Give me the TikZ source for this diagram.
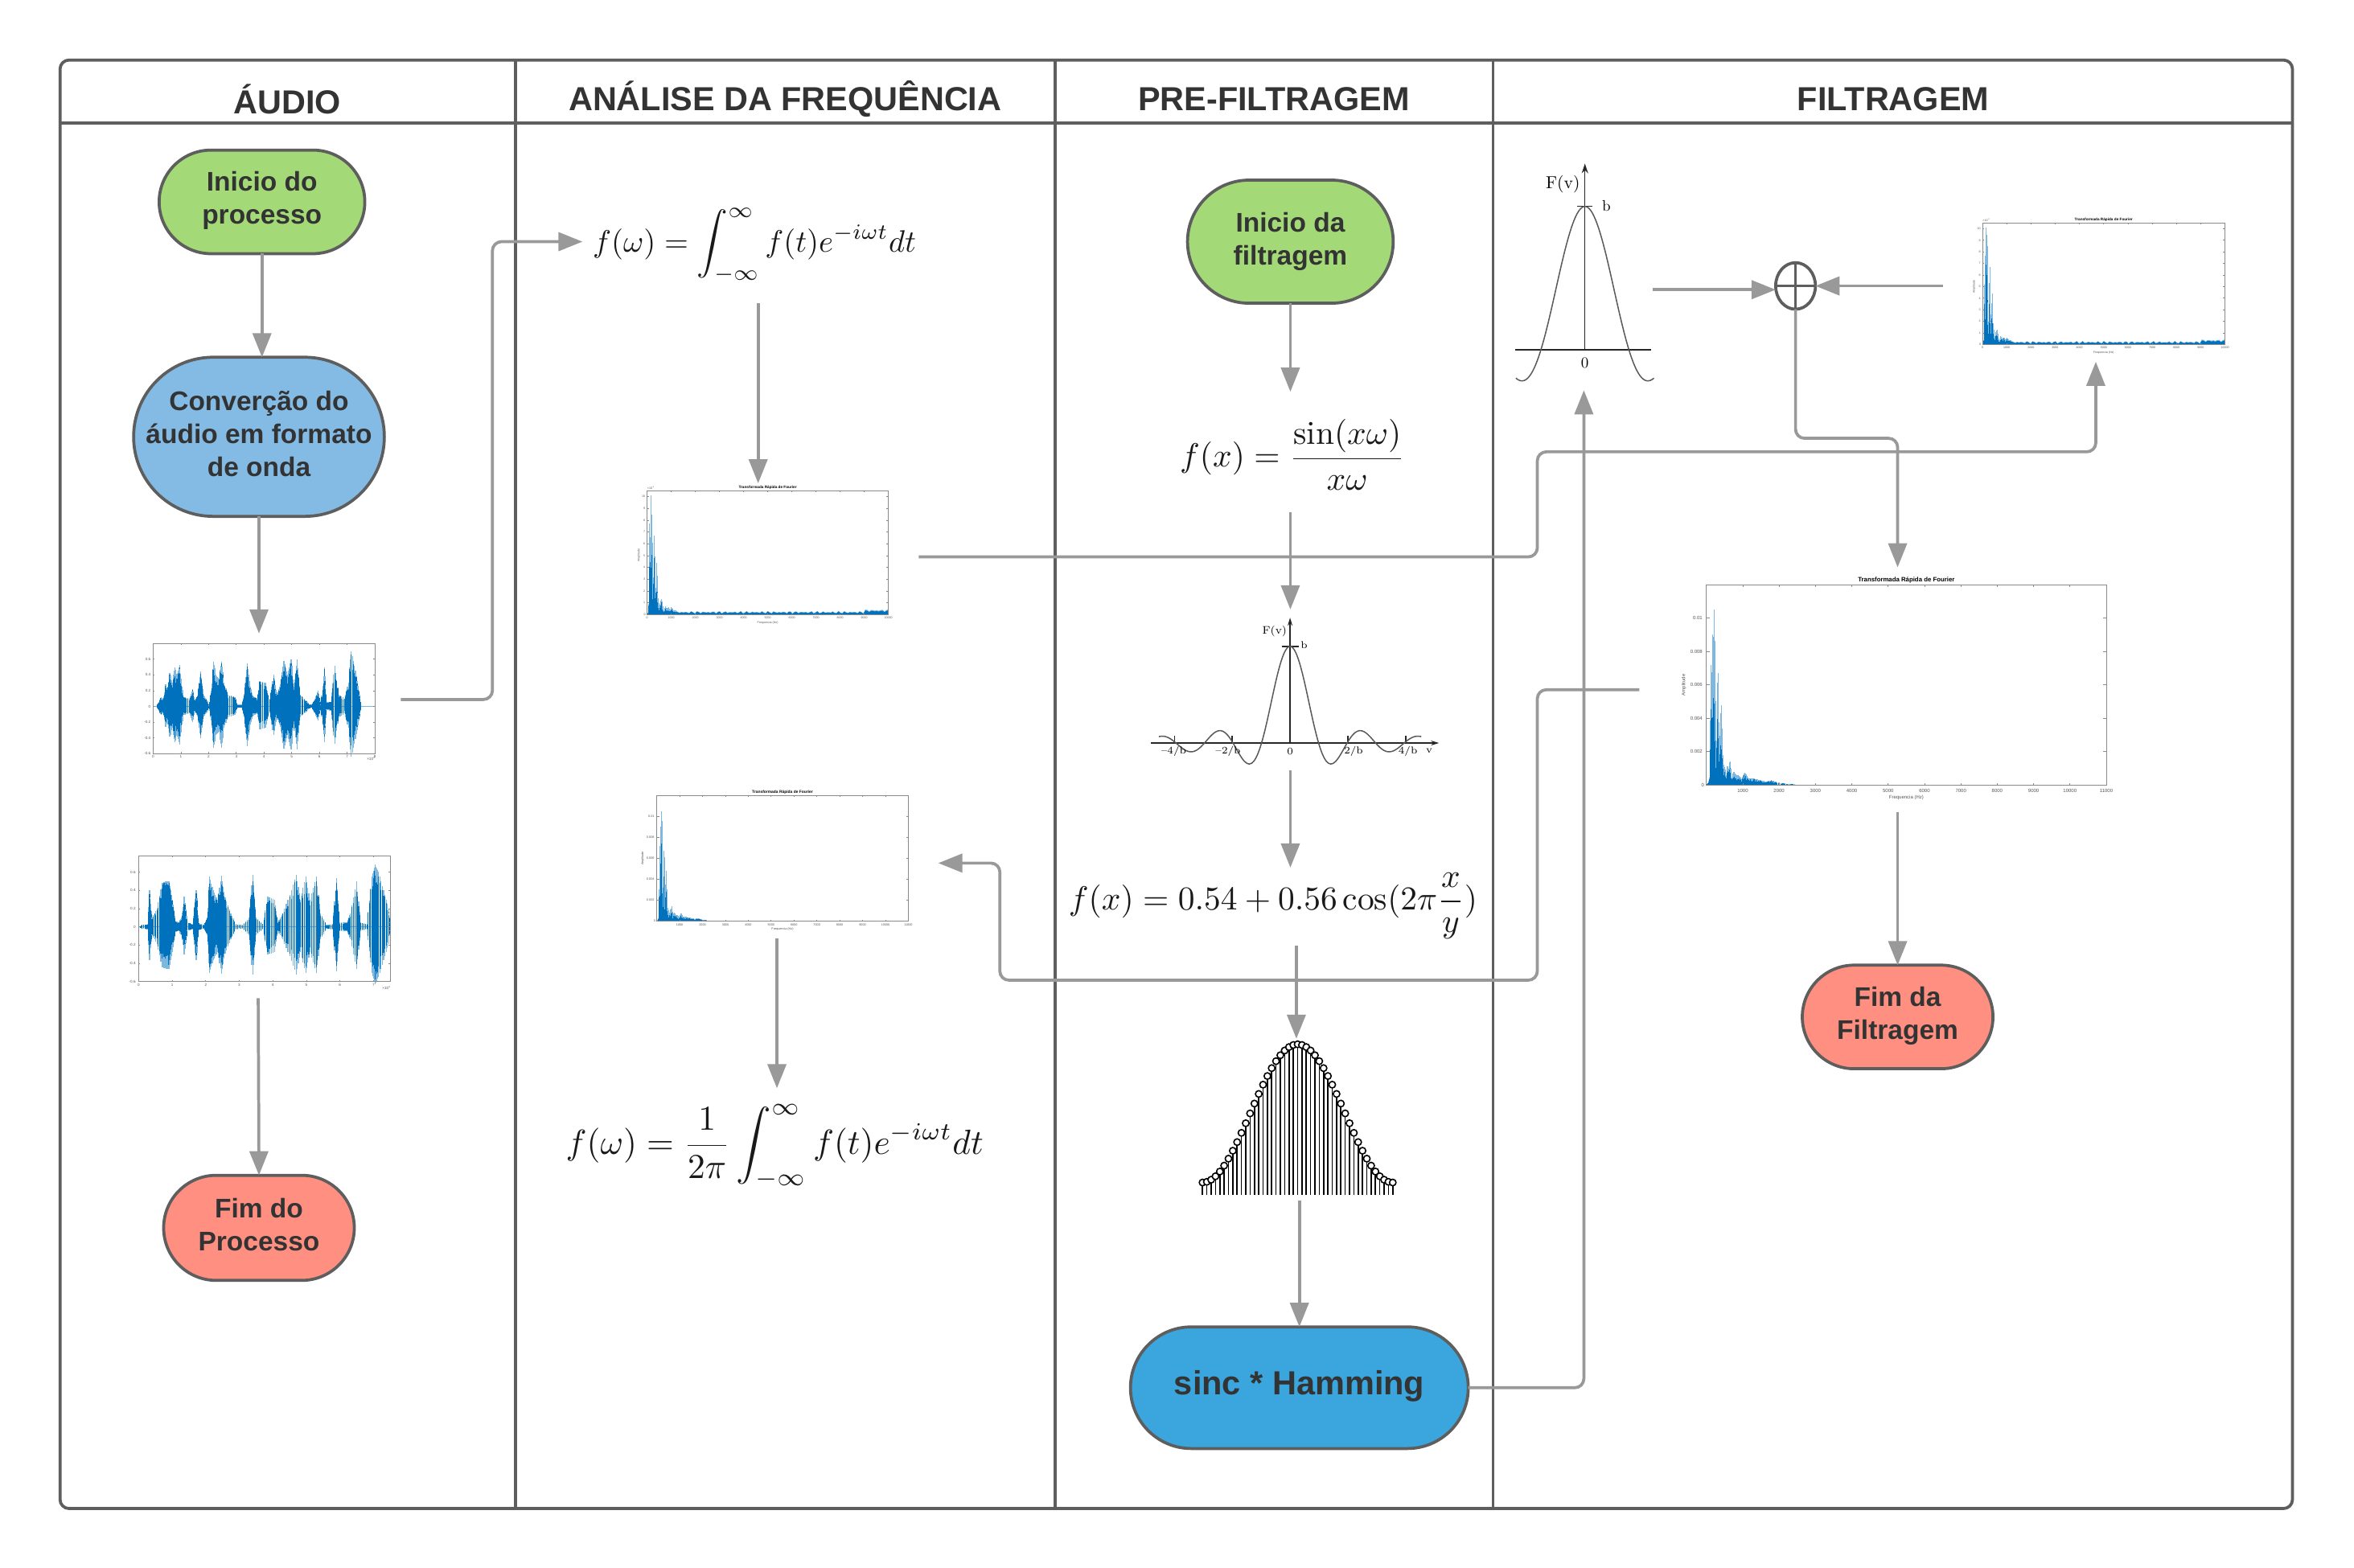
\documentclass[tikz,border=0pt]{standalone}
\usepackage{fontspec}
\usepackage{graphicx}
\usetikzlibrary{arrows.meta,shapes.misc,shapes.geometric,fit}
\newfontfamily\lsans{Liberation Sans}
\newlength\uu \setlength\uu{0.93335pt}
\definecolor{framec}{HTML}{5E5E5E}
\definecolor{connc}{HTML}{999999}
\definecolor{txtc}{HTML}{333333}
\definecolor{pgreen}{HTML}{A3D977}
\definecolor{pblue}{HTML}{83BBE5}
\definecolor{pred}{HTML}{FF8F80}
\definecolor{psinc}{HTML}{3AA6DD}
\definecolor{mdark}{HTML}{0072BD}
\definecolor{mlight}{HTML}{7FB8DE}
\definecolor{axc}{HTML}{8A8A8A}
\definecolor{labc}{HTML}{555555}
\tikzset{
  frameline/.style={draw=framec,line width=2\uu},
  conn/.style={draw=connc,line width=2\uu,rounded corners=6\uu},
  connar/.style={conn,-{Triangle[length=15pt,width=11.5pt]}},
  pill/.style={rectangle,draw=framec,line width=2\uu,text=txtc,align=center,inner sep=0pt,outer sep=0pt,
    font=\lsans\bfseries\fontsize{16.75}{20.5}\selectfont},
  headt/.style={text=txtc,inner sep=0pt,font=\lsans\bfseries\fontsize{20.7}{24}\selectfont},
  axl/.style={draw=axc,line width=0.35pt},
  graphl/.style={draw=black!85,line width=0.75pt},
  graphc/.style={draw=black!65,line width=0.75pt},
  slotn/.style={inner sep=0pt,outer sep=0pt,draw=none},
  eqn/.style={inner sep=0pt,text=black!90}
}
\newcommand\slot[5]{\node[slotn,fit={(#2,#3)(#4,#5)}] (#1) {};}
\newcommand\plotfont[1]{\lsans\fontsize{#1}{#1}\selectfont}
\newcommand\plotfontb[1]{\lsans\bfseries\fontsize{#1}{#1}\selectfont}
\newcommand\timesexp[1]{×10\raisebox{.45em}{\scalebox{.65}{#1}}}
% spectrum outlines (kHz / amplitude x 10^-3)
\def\specfilt{0/0,.05/.1,.1/.5,.13/7.2,.15/3,.17/9,.19/4,.21/10.5,.24/6.8,.26/2,.29/2,.32/6.7,.35/2,.38/2.7,.41/4.8,.44/2,.47/1.2,.52/.9,.55/.3,.58/1.1,.62/.9,.65/1.4,.7/.3,.75/.8,.82/.6,.9/.55,.97/.3,1.05/.75,1.15/.4,1.3/.38,1.5/.28,1.65/.2,1.78/.28,1.95/.15,2.2/.07,2.5/.02}
\def\specfull{0/.1,.05/.2,.08/1,.1/7.7,.12/3,.16/10.1,.18/5,.2/8.5,.23/2,.26/1,.3/6.7,.33/2,.36/1,.4/4.4,.43/1.5,.47/1.2,.5/.4,.55/1,.6/1.3,.65/.6,.7/.2,.75/.7,.8/.5,.9/.6,.95/.3,1/.6,1.1/.35,1.2/.35}
\def\specnoise{(1.2,0)--(1.2,.3)--plot[domain=1.35:10,samples=110] (\x,{.2+.07*sin(1597*\x)+.05*sin(1237*\x)+.15*(\x>9)})--(10,0)--cycle}
% waveform outlines (x 10^4 / amplitude)
\def\wavea{.13/0,.2/.06,.3/.12,.38/.08,.45/.28,.52/.2,.6/.42,.7/.3,.78/.5,.85/.38,.95/.53,1.02/.3,1.1/.12,1.3/.1,1.42/.22,1.5/.08,1.62/.16,1.72/.44,1.82/.14,1.95/.08,2.02/.01,2.1/.2,2.18/.57,2.27/.4,2.38/.35,2.46/.57,2.56/.3,2.7/.15,2.95/.12,3.05/.02,3.2/.02,3.3/.2,3.39/.55,3.5/.25,3.6/.14,3.75/.1,3.85/.32,4.05/.3,4.2/.1,4.35/.4,4.45/.15,4.6/.28,4.72/.58,4.85/.4,4.98/.6,5.08/.25,5.2/.6,5.32/.15,5.5/.08,5.62/.03,5.72/.02,5.85/.1,5.95/.2,6.05/.02,6.18/.5,6.25/.05,6.4/.06,6.55/.52,6.7/.15,6.9/.1,7.05/.3,7.15/.7,7.3/.45,7.42/.2,7.52/.01}
\def\waveb{.1/.02,.28/.03,.33/.4,.4/.1,.55/.2,.7/.48,.82/.5,.92/.5,1/.3,1.1/.06,1.2/.05,1.28/.1,1.36/.33,1.45/.05,1.6/.03,1.72/.4,1.8/.04,1.95/.02,2.05/.1,2.12/.55,2.22/.4,2.35/.3,2.47/.56,2.58/.32,2.75/.15,2.9/.03,3.1/.02,3.28/.1,3.4/.57,3.5/.1,3.7/.03,3.85/.33,4.05/.3,4.15/.05,4.3/.15,4.5/.35,4.7/.57,4.82/.3,4.98/.55,5.1/.3,5.3/.55,5.42/.15,5.6/.02,5.78/.03,5.9/.53,6/.05,6.2/.05,6.3/.15,6.5/.5,6.62/.05,6.8/.03,6.95/.55,7.05/.68,7.15/.6,7.3/.4,7.45/.2,7.5/0}
% spikes one-sided (list, line width)
\newcommand\specspikes[2]{%
\foreach \xa/\ya [remember=\xa as \xp (initially 0),remember=\ya as \yp (initially 0)] in #1 {
 \foreach \k in {0,...,7}{
  \pgfmathsetmacro\sx{\xp+(\xa-\xp)*\k/8}
  \pgfmathsetmacro\sy{\yp+(\ya-\yp)*\k/8}
  \pgfmathsetmacro\sr{.5+.4*rnd}
  \draw[mlight,line width=#2] (\sx,0)--(\sx,\sy);
  \draw[mdark,line width=#2] (\sx,0)--(\sx,\sy*\sr);
 }}}
% spikes two-sided (list)
\newcommand\wavespikes[1]{%
\foreach \xa/\ya [remember=\xa as \xp (initially 0),remember=\ya as \yp (initially 0)] in #1 {
 \foreach \k in {0,...,3}{
  \pgfmathsetmacro\sx{\xp+(\xa-\xp)*\k/4}
  \pgfmathsetmacro\sy{(\yp+(\ya-\yp)*\k/4)}
  \pgfmathsetmacro\sr{.72+.26*rnd}
  \pgfmathsetmacro\sq{.66+.28*rnd}
  \draw[mlight,line width=.62pt] (\sx,\sy)--(\sx,-.92*\sy);
  \draw[mdark,line width=.62pt] (\sx,\sr*\sy)--(\sx,-.9*\sq*\sy);
 }}}
% filtered FFT plot: name, x0, ytop, x1, ybot, fontscale
\newcommand\fftfilt[6]{%
\pgfmathsetmacro\ux{(#4-#2)*0.93335/11}\pgfmathsetmacro\uy{(#5-#3)*0.93335/12}%
\pgfmathsetmacro\ft{3.0*#6}\pgfmathsetmacro\ftt{3.9*#6}\pgfmathsetmacro\sw{.6*#6}%
\begin{scope}[shift={(#2,#5)},x=\ux pt,y=\uy pt]
 \specspikes{\specfilt}{\sw pt}
 \draw[mlight,line width=.4pt] (2.5,0)--(11,0);
 \draw[axl] (0,0) rectangle (11,12);
 \foreach \t in {1,...,10}{\draw[axl] (\t,0)--++(0,.12) (\t,12)--++(0,-.12);}
 \foreach \t in {1,...,11}{\node[inner sep=0pt,text=labc,font=\plotfont{\ft}] (#1x\t) at (\t,-.33) {\t000};}
 \foreach \v/\l in {2/0.002,4/0.004,6/0.006,8/0.008,10/0.01}{\draw[axl] (0,\v)--++(.1,0) (11,\v)--++(-.1,0);
   \node[inner sep=0pt,anchor=east,text=labc,font=\plotfont{\ft}] (#1y\v) at (-.1,\v) {\l};}
 \node[inner sep=0pt,anchor=east,text=labc,font=\plotfont{\ft}] (#1y0) at (-.05,0) {0};
 \node[inner sep=0pt,text=black,font=\plotfontb{\ftt}] (#1t) at (5.5,12.3) {Transformada Rápida de Fourier};
 \node[inner sep=0pt,text=labc,font=\plotfont{\ft}] (#1f) at (5.5,-.77) {Frequencia (Hz)};
 \node[inner sep=0pt,text=labc,rotate=90,font=\plotfont{\ft}] (#1a) at (-.62,6) {Amplitude};
\end{scope}}
% full FFT plot
\newcommand\fftfull[6]{%
\pgfmathsetmacro\ux{(#4-#2)*0.93335/10}\pgfmathsetmacro\uy{(#5-#3)*0.93335/10.5}%
\pgfmathsetmacro\ft{3.0*#6}\pgfmathsetmacro\ftt{3.9*#6}\pgfmathsetmacro\sw{.6*#6}%
\begin{scope}[shift={(#2,#5)},x=\ux pt,y=\uy pt]
 \specspikes{\specfull}{\sw pt}
 \fill[mlight] \specnoise;
 \fill[mdark,yscale=.8] \specnoise;
 \draw[axl] (0,0) rectangle (10,10.5);
 \foreach \t in {1,...,9}{\draw[axl] (\t,0)--++(0,.1) (\t,10.5)--++(0,-.1);}
 \node[inner sep=0pt,text=labc,font=\plotfont{\ft}] (#1x0) at (0,-.3) {0};
 \foreach \t in {1,...,10}{\node[inner sep=0pt,text=labc,font=\plotfont{\ft}] (#1x\t) at (\t,-.3) {\t000};}
 \node[inner sep=0pt,anchor=east,text=labc,font=\plotfont{\ft}] (#1y0) at (-.05,0) {0};
 \foreach \v in {1,...,10}{\draw[axl] (0,\v)--++(.07,0) (10,\v)--++(-.07,0);
   \node[inner sep=0pt,anchor=east,text=labc,font=\plotfont{\ft}] (#1y\v) at (-.07,\v) {\v};}
 \node[inner sep=0pt,anchor=west,text=labc,font=\plotfont{\ft}] (#1e) at (0,10.75) {\timesexp{-3}};
 \node[inner sep=0pt,text=black,font=\plotfontb{\ftt}] (#1t) at (5,10.78) {Transformada Rápida de Fourier};
 \node[inner sep=0pt,text=labc,font=\plotfont{\ft}] (#1f) at (5,-.68) {Frequencia (Hz)};
 \node[inner sep=0pt,text=labc,rotate=90,font=\plotfont{\ft}] (#1a) at (-.34,5) {Amplitude};
\end{scope}}
% waveform plot: name, x0, ytop, x1, ybot, xmax, ymaxamp, ticks x, outline
\newcommand\waveplot[9]{%
\pgfmathsetmacro\ux{(#4-#2)*0.93335/#6}\pgfmathsetmacro\uy{(#5-#3)*0.93335/(#7+0.6)}%
\begin{scope}[shift={(#2,#5)},x=\ux pt,y=\uy pt]
\begin{scope}[yshift=0.6*\uy pt]
 \draw[mlight,line width=.5pt] (0,.4)--(0,-.3);
 \draw[mlight,line width=.4pt] (0,0)--(#6,0);
 \wavespikes{#9}
 \foreach \v/\l in {-.6/-0.6,-.4/-0.4,-.2/-0.2,0/0,.2/0.2,.4/0.4,.6/0.6}{
   \draw[axl] (0,\v)--++(.05,0) (#6,\v)--++(-.05,0);
   \node[inner sep=0pt,anchor=east,text=labc,font=\plotfont{2.3}] (#1y\l) at (-.08,\v) {\l};}
\end{scope}
 \draw[axl] (0,0) rectangle (#6,#7+.6);
 \foreach \t in {#8}{\draw[axl] (\t,0)--++(0,.02) (\t,#7+.6)--++(0,-.02);
   \node[inner sep=0pt,text=labc,font=\plotfont{2.3}] (#1x\t) at (\t,-.035) {\t};}
 \node[inner sep=0pt,text=labc,anchor=east,font=\plotfont{2.3}] (#1e) at (#6,-.07) {\timesexp{4}};
\end{scope}}
\newcommand\sincfn[1]{sin(180*#1)/(3.14159*#1)}
\begin{document}
\begin{tikzpicture}[x=0.93335pt,y=-0.93335pt]
\pgfmathsetseed{4711}
\useasboundingbox (0,0) rectangle (1568,1044.6);
\fill[white] (0,0) rectangle (1568,1044.6);
% frame
\draw[frameline,rounded corners=6\uu] (40,40) rectangle (1527,1005);
\draw[frameline] (40,82)--(1527,82);
\draw[frameline] (343.5,40)--(343.5,1005);
\draw[frameline] (703,40)--(703,1005);
\draw[frameline] (994.5,40)--(994.5,1005);
\node[headt] (h1) at (191.5,66) {ÁUDIO};
\node[headt] (h2) at (523,66) {ANÁLISE DA FREQUÊNCIA};
\node[headt] (h3) at (848.5,66) {PRE-FILTRAGEM};
\node[headt] (h4) at (1261,66) {FILTRAGEM};
% slots for drawings and formulas
\slot{wave1}{77}{422}{267}{510}
\slot{wave2}{66}{566}{278}{665}
\slot{eq1}{388}{120}{622}{202}
\slot{fft1}{398}{322}{612}{420}
\slot{fft2}{410}{525}{625}{625}
\slot{eq2}{375}{725}{660}{800}
\slot{eq3}{770}{261}{949}{341}
\slot{sincg}{760}{406}{959}{513}
\slot{eq4}{712}{578}{990}{630}
\slot{ham}{794}{692}{933}{800}
\slot{filt}{1009}{126}{1101}{260}
\slot{fft3}{1294}{140}{1498}{241}
\slot{fft4}{1092}{378}{1436}{541}
% pills
\node[pill,fill=pgreen,rounded corners=34.5\uu,minimum width=137\uu,minimum height=69\uu,text depth=5.2pt] (ini1) at (174.5,134.5) {Inicio do\\processo};
\node[pill,fill=pblue,rounded corners=53\uu,minimum width=167\uu,minimum height=106\uu,text depth=3.7pt] (conv) at (172.5,291) {Converção do\\áudio em formato\\de onda};
\node[pill,fill=pred,rounded corners=35\uu,minimum width=127\uu,minimum height=70\uu,text depth=3.7pt] (fim1) at (172.5,818) {Fim do\\Processo};
\node[pill,fill=pgreen,rounded corners=41\uu,minimum width=137\uu,minimum height=82\uu] (ini2) at (859.5,161) {Inicio da\\filtragem};
\node[pill,fill=psinc,rounded corners=40.5\uu,minimum width=225\uu,minimum height=81\uu,text depth=6.5pt,font=\lsans\bfseries\fontsize{20.75}{26}\selectfont] (sh) at (865.5,924.5) {sinc * Hamming};
\node[pill,fill=pred,rounded corners=34.5\uu,minimum width=127\uu,minimum height=69\uu,text depth=5.2pt] (fim2) at (1264,677.5) {Fim da\\Filtragem};
\node[ellipse,draw=framec,line width=2\uu,outer sep=0pt,minimum width=26.5\uu,minimum height=31\uu,inner sep=0pt] (xor) at (1196,190.5) {};
\draw[draw=framec,line width=2\uu] (xor.north)--(xor.south) (xor.west)--(xor.east);
% formulas
\node[eqn] (eq1f) at (502.5,163.5) {\resizebox{201pt}{!}{$\displaystyle f(\omega)=\int_{-\infty}^{\infty} f(t)e^{-i\omega t}dt$}};
\node[eqn] (eq2f) at (516,764) {\resizebox{259.5pt}{!}{$\displaystyle f(\omega)=\frac{1}{2\pi}\int_{-\infty}^{\infty} f(t)e^{-i\omega t}dt$}};
\node[eqn] (eq3f) at (861,303) {\resizebox{140pt}{!}{$\displaystyle f(x)=\frac{\sin(x\omega)}{x\omega}$}};
\node[eqn] (eq4f) at (848,603.5) {\resizebox{254pt}{!}{$\displaystyle f(x)=0.54+0.56\cos(2\pi\frac{x}{y})$}};
% waveforms
\waveplot{wa}{102}{428.7}{249.7}{502}{8}{.8}{0,...,8}{\wavea}
\waveplot{wb}{92.3}{570}{260}{654}{7.5}{.78}{0,...,7}{\waveb}
% spectra
\fftfull{fa}{431}{327}{591.7}{409.4}{.6}
\fftfull{fc}{1320.5}{148.5}{1482}{229.5}{.6}
\fftfilt{fb}{437.5}{530}{605}{613.6}{.63}
\fftfilt{fd}{1136.6}{389.6}{1403}{522.9}{1}
% sinc graph (pre-filtering)
\draw[graphl,-{Stealth[length=5pt,width=3pt]}] (766.6,495)--(958.5,495);
\draw[graphl,-{Stealth[length=5pt,width=3pt]}] (859.3,495)--(859.3,411.5);
\draw[graphl] (854,430.6)--(865,430.6);
\foreach \t in {-77,-38.5,38.5,77}{\draw[graphl] (859.3+\t,495)--(859.3+\t,490);}
\draw[graphc] plot[domain=-4.6:4.6,samples=120,smooth] ({859.3+19*\x},{495-64.4*\sincfn{\x}});
\node[inner sep=0pt,font=\fontsize{6.8}{8}\selectfont] (sF) at (849,420.5) {F(v)};
\node[inner sep=0pt,font=\fontsize{6.2}{7}\selectfont] (sb) at (868.7,430) {b};
\node[inner sep=0pt,font=\fontsize{6.2}{7}\selectfont] (s0) at (859.3,500.5) {0};
\node[inner sep=0pt,font=\fontsize{6.2}{7}\selectfont] (sm4) at (781.8,500.5) {--4/b};
\node[inner sep=0pt,font=\fontsize{6.2}{7}\selectfont] (sm2) at (818,500.5) {--2/b};
\node[inner sep=0pt,font=\fontsize{6.2}{7}\selectfont] (sp2) at (901.6,500.5) {2/b};
\node[inner sep=0pt,font=\fontsize{6.2}{7}\selectfont] (sp4) at (937.8,500.5) {4/b};
\node[inner sep=0pt,font=\fontsize{6.2}{7}\selectfont] (sv) at (952,500.5) {v};
% sinc graph (filter)
\draw[graphl] (1009,233)--(1100,233);
\draw[graphl,-{Stealth[length=6pt,width=4pt]}] (1055.7,233)--(1055.7,109);
\draw[graphl] (1050.7,137.5)--(1060.7,137.5);
\draw[graphc] plot[domain=-1.57:1.57,samples=80,smooth] ({1055.7+29.3*\x},{233-95.5*\sincfn{\x}});
\node[inner sep=0pt,font=\fontsize{10.8}{12}\selectfont] (fF) at (1041,122.7) {F(v)};
\node[inner sep=0pt,font=\fontsize{9.5}{11}\selectfont] (fb2) at (1070,137) {b};
\node[inner sep=0pt,font=\fontsize{9.5}{11}\selectfont] (f02) at (1055.7,241.6) {0};
% hamming stems
\foreach \n in {0,...,44}{
  \pgfmathsetmacro\hx{801+\n*126.7/44}
  \pgfmathsetmacro\hy{787.8-92.1*(0.54-0.46*cos(360*\n/44)-0.08)/0.92}
  \draw[black,line width=.85pt] (\hx,796)--(\hx,\hy);
  \draw[black,line width=.8pt,fill=white] (\hx,\hy) circle (2.2);
}
% connectors
\draw[connar] (ini1.south)--(ini1.south |- conv.north);
\draw[connar] (conv.south)--(conv.south |- wave1.north);
\draw[connar] (wave2.south)--(fim1.north);
\draw[connar] (wave1.east)--(328,466)--(328,161)--(eq1.west);
\draw[connar] (eq1.south)--(fft1.north);
\draw[connar] (fft2.south)--(eq2.north);
\draw[connar] (ini2.south)--(eq3.north);
\draw[connar] (eq3.south)--(sincg.north);
\draw[connar] (sincg.south)--(sincg.south |- eq4.north);
\draw[connar] (eq4.south -| ham.north)--(ham.north);
\draw[connar] (ham.south -| sh.north)--(sh.north);
\draw[connar] (sh.east)--(1055,924.5)--(filt.south);
\draw[connar] (filt.east)--(filt.east -| xor.west);
\draw[connar] (fft3.west)--(xor.east);
\draw[connar] (xor.south)--(1196,292)--(1264,292)--(fft4.north);
\draw[connar] (fft1.east)--(1024,371)--(1024,301)--(1396,301)--(fft3.south);
\draw[connar] (fft4.west)--(1024,459.5)--(1024,653)--(666,653)--(666,575)--(fft2.east);
\draw[connar] (fft4.south)--(fim2.north);
\end{tikzpicture}
\end{document}
